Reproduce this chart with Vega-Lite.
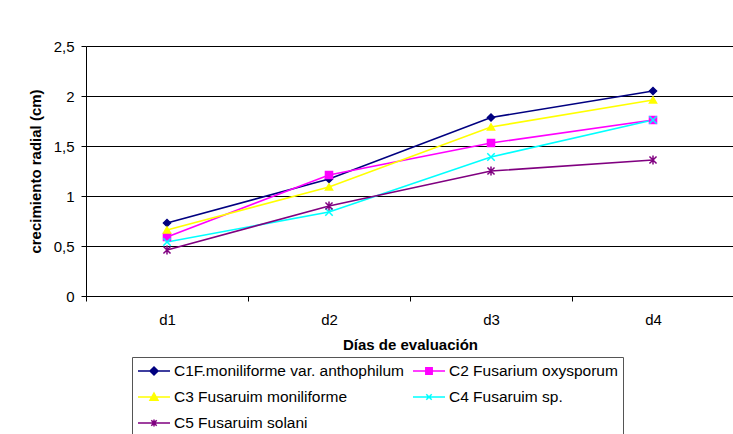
{
  "$schema": "https://vega.github.io/schema/vega-lite/v6.json",
  "width": 648,
  "height": 250,
  "autosize": {"type": "none"},
  "padding": {"left": 86, "top": 46, "right": 0, "bottom": 138},
  "background": "white",
  "config": {
    "font": "Liberation Sans",
    "view": {"stroke": null},
    "axis": {
      "labelFont": "Liberation Sans", "labelFontSize": 15, "labelColor": "black",
      "titleFont": "Liberation Sans", "titleFontSize": 15, "titleFontWeight": "bold", "titleColor": "black",
      "domainColor": "black", "tickColor": "black", "gridColor": "black", "gridOpacity": 1, "tickSize": 5
    }
  },
  "data": {"values": [
    {"serie": "C1F.moniliforme var. anthophilum", "dia": "d1", "valor": 0.73},
    {"serie": "C1F.moniliforme var. anthophilum", "dia": "d2", "valor": 1.17},
    {"serie": "C1F.moniliforme var. anthophilum", "dia": "d3", "valor": 1.785},
    {"serie": "C1F.moniliforme var. anthophilum", "dia": "d4", "valor": 2.05},
    {"serie": "C2 Fusarium oxysporum", "dia": "d1", "valor": 0.59},
    {"serie": "C2 Fusarium oxysporum", "dia": "d2", "valor": 1.21},
    {"serie": "C2 Fusarium oxysporum", "dia": "d3", "valor": 1.53},
    {"serie": "C2 Fusarium oxysporum", "dia": "d4", "valor": 1.76},
    {"serie": "C3 Fusaruim moniliforme", "dia": "d1", "valor": 0.66},
    {"serie": "C3 Fusaruim moniliforme", "dia": "d2", "valor": 1.09},
    {"serie": "C3 Fusaruim moniliforme", "dia": "d3", "valor": 1.69},
    {"serie": "C3 Fusaruim moniliforme", "dia": "d4", "valor": 1.96},
    {"serie": "C4 Fusaruim sp.", "dia": "d1", "valor": 0.54},
    {"serie": "C4 Fusaruim sp.", "dia": "d2", "valor": 0.84},
    {"serie": "C4 Fusaruim sp.", "dia": "d3", "valor": 1.39},
    {"serie": "C4 Fusaruim sp.", "dia": "d4", "valor": 1.76},
    {"serie": "C5 Fusaruim solani", "dia": "d1", "valor": 0.46},
    {"serie": "C5 Fusaruim solani", "dia": "d2", "valor": 0.90},
    {"serie": "C5 Fusaruim solani", "dia": "d3", "valor": 1.25},
    {"serie": "C5 Fusaruim solani", "dia": "d4", "valor": 1.36}
  ]},
  "encoding": {
    "x": {"field": "dia", "type": "nominal",
      "scale": {"type": "band", "domain": ["d1", "d2", "d3", "d4"], "paddingInner": 0, "paddingOuter": 0},
      "axis": {"title": "Días de evaluación", "labelAngle": 0, "tickBand": "extent", "grid": false, "labelPadding": 11, "titlePadding": 10}},
    "y": {"field": "valor", "type": "quantitative",
      "scale": {"domain": [0, 2.5], "nice": false},
      "axis": {"title": "crecimiento radial (cm)", "values": [0, 0.5, 1, 1.5, 2, 2.5], "format": "~g", "labelExpr": "replace(datum.label, '.', ',')", "labelPadding": 7, "titlePadding": 10, "grid": true}}
  },
  "layer": [
    {
      "mark": {"type": "line", "strokeWidth": 1.6},
      "encoding": {
        "color": {"field": "serie", "type": "nominal",
          "scale": {"domain": ["C1F.moniliforme var. anthophilum", "C2 Fusarium oxysporum", "C3 Fusaruim moniliforme", "C4 Fusaruim sp.", "C5 Fusaruim solani"],
                    "range": ["#000080", "#FF00FF", "#FFFF00", "#00FFFF", "#800080"]},
          "legend": null}
      }
    },
    {
      "mark": {"type": "point", "filled": true, "size": 50, "strokeWidth": 1.5, "opacity": 1},
      "encoding": {
        "fill": {"field": "serie", "type": "nominal",
          "scale": {"domain": ["C1F.moniliforme var. anthophilum", "C2 Fusarium oxysporum", "C3 Fusaruim moniliforme", "C4 Fusaruim sp.", "C5 Fusaruim solani"],
                    "range": ["#000080", "#FF00FF", "#FFFF00", "#00FFFF", "#800080"]},
          "legend": null},
        "stroke": {"field": "serie", "type": "nominal",
          "scale": {"domain": ["C1F.moniliforme var. anthophilum", "C2 Fusarium oxysporum", "C3 Fusaruim moniliforme", "C4 Fusaruim sp.", "C5 Fusaruim solani"],
                    "range": ["#000080", "#FF00FF", "#FFFF00", "#00FFFF", "#800080"]},
          "legend": null},
        "shape": {"field": "serie", "type": "nominal",
          "scale": {"domain": ["C1F.moniliforme var. anthophilum", "C2 Fusarium oxysporum", "C3 Fusaruim moniliforme", "C4 Fusaruim sp.", "C5 Fusaruim solani"],
                    "range": ["diamond", "square", "triangle-up", "M-1.05,-1.05L1.05,1.05M-1.05,1.05L1.05,-1.05", "M-1,-1L1,1M-1,1L1,-1M0,-1.3V1.3"]},
          "legend": null}
      }
    },
    {
      "transform": [{"filter": "false"}],
      "mark": {"type": "point", "filled": true, "strokeWidth": 1.5, "opacity": 1},
      "encoding": {
        "fill": {"field": "serie", "type": "nominal",
          "scale": {"domain": ["C1F.moniliforme var. anthophilum", "C3 Fusaruim moniliforme", "C5 Fusaruim solani", "C2 Fusarium oxysporum", "C4 Fusaruim sp."],
                    "range": ["#000080", "#FFFF00", "#800080", "#FF00FF", "#00FFFF"]},
          "legend": {"title": null, "orient": "none", "legendX": 46, "legendY": 311, "columns": 2, "gridAlign": "all", "columnPadding": 7, "rowPadding": 8, "padding": 5, "clipHeight": 18, "strokeColor": "#555555", "fillColor": "white", "symbolSize": 1024, "symbolStrokeWidth": 1.5, "labelFontSize": 15.5, "labelFont": "Liberation Sans", "labelColor": "black", "labelOffset": 3, "labelLimit": 400, "symbolOpacity": 1}},
        "stroke": {"field": "serie", "type": "nominal",
          "scale": {"domain": ["C1F.moniliforme var. anthophilum", "C3 Fusaruim moniliforme", "C5 Fusaruim solani", "C2 Fusarium oxysporum", "C4 Fusaruim sp."],
                    "range": ["#000080", "#FFFF00", "#800080", "#FF00FF", "#00FFFF"]},
          "legend": {"title": null, "orient": "none", "legendX": 46, "legendY": 311, "columns": 2, "gridAlign": "all", "columnPadding": 7, "rowPadding": 8, "padding": 5, "clipHeight": 18, "strokeColor": "#555555", "fillColor": "white", "symbolSize": 1024, "symbolStrokeWidth": 1.5, "labelFontSize": 15.5, "labelFont": "Liberation Sans", "labelColor": "black", "labelOffset": 3, "labelLimit": 400, "symbolOpacity": 1}},
        "shape": {"field": "serie", "type": "nominal",
          "scale": {"domain": ["C1F.moniliforme var. anthophilum", "C3 Fusaruim moniliforme", "C5 Fusaruim solani", "C2 Fusarium oxysporum", "C4 Fusaruim sp."],
                    "range": ["M-1,0H1M0,-0.25L0.25,0L0,0.25L-0.25,0Z", "M-1,0H1M0,-0.25L0.25,0.2H-0.25Z", "M-1,0H1M-0.17,-0.17L0.17,0.17M-0.17,0.17L0.17,-0.17M0,-0.22V0.22", "M-1,0H1M-0.2,-0.2H0.2V0.2H-0.2Z", "M-1,0H1M-0.17,-0.17L0.17,0.17M-0.17,0.17L0.17,-0.17"]},
          "legend": {"title": null, "orient": "none", "legendX": 46, "legendY": 311, "columns": 2, "gridAlign": "all", "columnPadding": 7, "rowPadding": 8, "padding": 5, "clipHeight": 18, "strokeColor": "#555555", "fillColor": "white", "symbolSize": 1024, "symbolStrokeWidth": 1.5, "labelFontSize": 15.5, "labelFont": "Liberation Sans", "labelColor": "black", "labelOffset": 3, "labelLimit": 400, "symbolOpacity": 1}}
      }
    }
  ],
  "resolve": {"scale": {"shape": "independent", "fill": "independent", "stroke": "independent"}}
}
